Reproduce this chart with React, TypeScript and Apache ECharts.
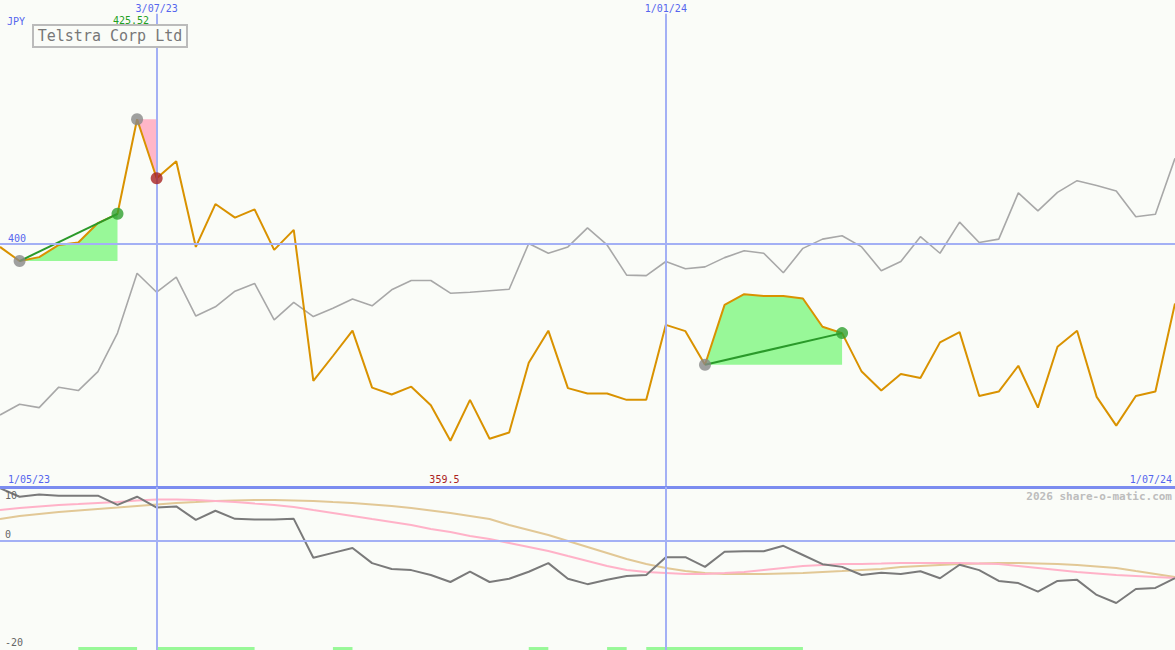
import React, { useEffect, useRef } from "react";
import * as echarts from "echarts";

// weekly closes, 8 May 2023 .. 1 Jul 2024 (index 0..60)
const price = [
  399.3, 396.4, 397.2, 399.7, 400.2, 404.2, 406.1, 425.52, 413.4, 416.9,
  399.3, 408.1, 405.3, 407.0, 398.7, 402.8, 371.8, 376.9, 382.1, 370.4,
  369.0, 370.6, 366.8, 359.5, 367.9, 359.9, 361.2, 375.5, 382.1, 370.3,
  369.2, 369.2, 367.9, 367.9, 383.3, 382.0, 375.1, 387.4, 389.6, 389.2,
  389.2, 388.7, 382.9, 381.6, 373.7, 369.8, 373.2, 372.4, 379.7, 381.8,
  368.7, 369.6, 374.9, 366.3, 378.8, 382.1, 368.5, 362.6, 368.7, 369.6,
  387.7,
];
const relative = [
  364.8, 367.0, 366.3, 370.5, 369.8, 373.7, 381.6, 393.9, 390.0, 393.1,
  385.1, 387.0, 390.2, 391.8, 384.3, 387.9, 385.0, 386.7, 388.6, 387.2,
  390.5, 392.4, 392.4, 389.8, 390.0, 390.3, 390.6, 400.0, 398.0, 399.3,
  403.2, 399.7, 393.5, 393.4, 396.3, 394.8, 395.2, 397.1, 398.5, 398.0,
  394.0, 399.0, 400.9, 401.6, 399.3, 394.4, 396.3, 401.4, 398.0, 404.4,
  400.2, 400.9, 410.4, 406.7, 410.5, 412.9, 411.9, 410.8, 405.5, 406.0,
  417.5,
];
const momentum = [
  9.8, 8.2, 8.6, 8.4, 8.4, 8.4, 6.7, 8.2, 6.2, 6.4,
  3.9, 5.6, 4.1, 4.0, 4.0, 4.1, -3.1, -2.2, -1.3, -4.1,
  -5.2, -5.4, -6.3, -7.6, -5.7, -7.6, -7.0, -5.7, -4.1, -7.0,
  -8.0, -7.2, -6.5, -6.3, -3.0, -3.0, -4.8, -2.0, -1.9, -1.9,
  -0.9, -2.6, -4.3, -4.8, -6.3, -5.9, -6.1, -5.6, -6.9, -4.4,
  -5.4, -7.4, -7.8, -9.4, -7.4, -7.2, -10.0, -11.5, -8.9, -8.7,
  -6.9,
];
const fastAvg = [
  5.74, 6.11, 6.39, 6.67, 6.85, 7.04, 7.22, 7.5, 7.69, 7.69,
  7.59, 7.41, 7.22, 6.94, 6.67, 6.3, 5.74, 5.19, 4.63, 4.07,
  3.52, 2.96, 2.22, 1.67, 0.93, 0.37, -0.37, -1.11, -1.85, -2.78,
  -3.7, -4.63, -5.37, -5.74, -5.93, -6.11, -6.11, -5.93, -5.74, -5.37,
  -5.0, -4.63, -4.44, -4.26, -4.26, -4.17, -4.07, -4.07, -4.07, -4.07,
  -4.17, -4.26, -4.63, -5.0, -5.37, -5.74, -6.02, -6.3, -6.48, -6.67,
  -6.85,
];
const slowAvg = [
  4.07, 4.63, 5.0, 5.37, 5.65, 5.93, 6.2, 6.48, 6.76, 7.04,
  7.22, 7.41, 7.5, 7.59, 7.59, 7.5, 7.41, 7.22, 7.04, 6.76,
  6.48, 6.11, 5.65, 5.19, 4.63, 4.07, 2.96, 2.04, 1.11, 0.0,
  -1.11, -2.22, -3.33, -4.26, -5.0, -5.56, -5.93, -6.11, -6.11, -6.11,
  -6.02, -5.93, -5.74, -5.56, -5.37, -5.19, -4.81, -4.63, -4.44, -4.26,
  -4.17, -4.07, -4.07, -4.17, -4.26, -4.44, -4.72, -5.0, -5.56, -6.11,
  -6.67,
];

// [startIndex, endIndex]
const rises: [number, number][] = [[1, 6], [36, 43]];
const falls: [number, number][] = [[7, 8]];
// signal bars [fromIndex, toIndex]
const signalBars: [number, number][] = [[4, 7], [8, 13], [17, 18], [27, 28], [31, 32], [33, 41]];

const markerIdx = [8, 34];
const markerLabels = ["3/07/23", "1/01/24"];
const startLabel = "1/05/23";
const endLabel = "1/07/24";
const priceTick = 400;
const lowerTicks = [10, 0, -20];
const title = "Telstra Corp Ltd";
const currency = "JPY";

const BLUE = "#a3b0f5";
const BLUE_DARK = "#7b8cf0";
const MONO = "'DejaVu Sans Mono', 'Liberation Mono', monospace";

export default function App() {
  const ref = useRef<HTMLDivElement>(null);
  useEffect(() => {
    if (!ref.current) return;
    const chart = echarts.init(ref.current, null, { renderer: "svg" });
    const pts = (arr: number[], a = 0, b = arr.length - 1) =>
      arr.slice(a, b + 1).map((v, k) => [a + k, v]);
    const N = price.length - 1;
    const series: any[] = [];

    rises.forEach(([a, b]) => {
      series.push({
        type: "line", xAxisIndex: 0, yAxisIndex: 0, data: pts(price, a, b),
        symbol: "none", lineStyle: { width: 0 }, z: 1,
        areaStyle: { color: "#98f898", opacity: 1, origin: price[a] },
      });
    });
    falls.forEach(([a, b]) => {
      series.push({
        type: "line", xAxisIndex: 0, yAxisIndex: 0, data: pts(price, a, b),
        symbol: "none", lineStyle: { width: 0 }, z: 1,
        areaStyle: { color: "#ffb6c8", opacity: 1, origin: price[a] },
      });
    });
    series.push({
      type: "line", xAxisIndex: 0, yAxisIndex: 0, data: pts(relative),
      symbol: "none", lineStyle: { color: "#a8a8a8", width: 1.6 }, z: 2,
      markLine: {
        silent: true, symbol: "none", label: { show: false },
        data: [
          { yAxis: priceTick, lineStyle: { color: BLUE, width: 2, type: "solid" } },
          ...markerIdx.map((i) => [
            { coord: [i, 447.2], lineStyle: { color: BLUE, width: 2, type: "solid" } },
            { coord: [i, 350] },
          ]),
        ],
      },
    });
    series.push({
      type: "line", xAxisIndex: 0, yAxisIndex: 0, data: pts(price),
      symbol: "none", lineStyle: { color: "#d99200", width: 2 }, z: 3,
    });
    rises.forEach(([a, b]) => {
      series.push({
        type: "line", xAxisIndex: 0, yAxisIndex: 0,
        data: [[a, price[a]], [b, price[b]]],
        symbol: "none", lineStyle: { color: "#2a9a2a", width: 2 }, z: 4,
      });
    });
    const dots: any[] = [];
    rises.forEach(([a, b]) => {
      dots.push({ value: [a, price[a]], itemStyle: { color: "#888888" } });
      dots.push({ value: [b, price[b]], itemStyle: { color: "#2fa02f" } });
    });
    falls.forEach(([a, b]) => {
      dots.push({ value: [a, price[a]], itemStyle: { color: "#888888" } });
      dots.push({ value: [b, price[b]], itemStyle: { color: "#a82222" } });
    });
    series.push({
      type: "scatter", xAxisIndex: 0, yAxisIndex: 0, data: dots,
      symbolSize: 12, z: 5,
    });

    // lower panel
    series.push({
      type: "line", xAxisIndex: 1, yAxisIndex: 1, data: pts(slowAvg),
      symbol: "none", lineStyle: { color: "#e2c896", width: 2 }, z: 2,
      markLine: {
        silent: true, symbol: "none", label: { show: false },
        data: [
          { yAxis: 0, lineStyle: { color: BLUE, width: 2, type: "solid" } },
          { yAxis: 10, lineStyle: { color: BLUE_DARK, width: 3, type: "solid" } },
          ...markerIdx.map((i) => ({ xAxis: i, lineStyle: { color: BLUE, width: 2, type: "solid" } })),
        ],
      },
      markArea: {
        silent: true,
        itemStyle: { color: "#98f898", opacity: 1 },
        data: signalBars.map(([a, b]) => [
          { coord: [a, -20.3] },
          { coord: [b, -19.65] },
        ]),
      },
    });
    series.push({
      type: "line", xAxisIndex: 1, yAxisIndex: 1, data: pts(fastAvg),
      symbol: "none", lineStyle: { color: "#ffb2c8", width: 2 }, z: 3,
    });
    series.push({
      type: "line", xAxisIndex: 1, yAxisIndex: 1, data: pts(momentum),
      symbol: "none", lineStyle: { color: "#7a7a7a", width: 2 }, z: 4,
    });

    const hiddenAxis = { show: false, splitLine: { show: false } };
    chart.setOption({
      animation: false,
      backgroundColor: "#fafcf8",
      grid: [
        { left: 0, right: 0, top: 0, height: 487 },
        { left: 0, right: 0, top: 487, height: 163 },
      ],
      xAxis: [
        { type: "value", gridIndex: 0, min: 0, max: N, ...hiddenAxis },
        { type: "value", gridIndex: 1, min: 0, max: N, ...hiddenAxis },
      ],
      yAxis: [
        { type: "value", gridIndex: 0, min: 350, max: 450, ...hiddenAxis },
        { type: "value", gridIndex: 1, min: -20.2, max: 10, ...hiddenAxis },
      ],
      series,
    });

    const px = (g: number, x: number, y: number) =>
      chart.convertToPixel({ gridIndex: g } as any, [x, y]) as number[];
    const small = (text: string, x: number, y: number, color: string, align = "left", size = 10) => ({
      type: "text", x, y,
      style: { text, fill: color, font: `${size}px ${MONO}`, align, verticalAlign: "top" },
      z: 100,
    });
    let maxI = 0, minI = 0;
    price.forEach((v, i) => { if (v > price[maxI]) maxI = i; if (v < price[minI]) minI = i; });
    const maxP = px(0, maxI, price[maxI]);
    const minP = px(0, minI, price[minI]);
    const p400 = px(0, 0, priceTick);
    const graphics: any[] = [
      small(currency, 7, 16, "#5566ee"),
      small(price[maxI].toFixed(2), maxP[0] - 6, 15, "#22a022", "center"),
      small(String(priceTick), 8, p400[1] - 10, "#5566ee"),
      small(startLabel, 8, 474, "#5566ee"),
      small(endLabel, 1172, 474, "#5566ee", "right"),
      small(String(price[minI]), minP[0] - 6, 474, "#aa2222", "center"),
      {
        type: "text", x: 1172, y: 491, z: 100,
        style: { text: "2026 share-o-matic.com", fill: "#bdbdbd", font: `bold 11px ${MONO}`, align: "right", verticalAlign: "top" },
      },
      {
        type: "rect", shape: { x: 33, y: 25, width: 154, height: 22 }, z: 100,
        style: { fill: "#fafcf8", stroke: "#bbbbbb", lineWidth: 2 },
      },
      {
        type: "text", x: 110, y: 36, z: 101,
        style: { text: title, fill: "#777777", font: `15px ${MONO}`, align: "center", verticalAlign: "middle" },
      },
    ];
    markerIdx.forEach((i, k) => {
      const p = px(0, i, 450);
      graphics.push(small(markerLabels[k], p[0], 3, "#5566ee", "center"));
    });
    lowerTicks.forEach((t) => {
      const p = px(1, 0, t);
      graphics.push(small(String(t), 5, Math.max(p[1] - 11, 490), "#666666"));
    });
    chart.setOption({ graphic: graphics });

    return () => chart.dispose();
  }, []);
  return (
    <div
      ref={ref}
      style={{ position: "fixed", left: 0, top: 0, width: 1175, height: 650 }}
    />
  );
}
